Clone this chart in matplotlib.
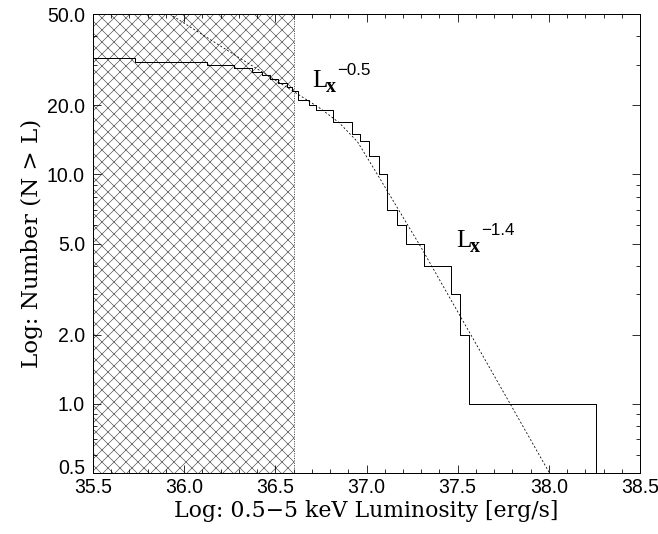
import numpy as np
import matplotlib
matplotlib.use("Agg")
import matplotlib.pyplot as plt
import matplotlib.transforms as mtransforms
from matplotlib.ticker import FixedLocator, MultipleLocator, LogLocator, NullFormatter

# cumulative luminosity function: level starts (log L) and N(>L)
lum = [35.50, 35.73, 36.127, 36.272, 36.37, 36.425, 36.471, 36.516, 36.563,
       36.59, 36.626, 36.683, 36.723, 36.818, 36.918, 36.965, 37.016, 37.069,
       37.115, 37.166, 37.215, 37.316, 37.462, 37.513, 37.564, 38.26]
counts = [32, 31, 30, 29, 28, 27, 26, 25, 24, 23, 21, 20, 19, 17, 15, 14, 12,
          10, 7, 6, 5, 4, 3, 2, 1, 0]

# broken power-law model (dashed)
model_lum = [35.92, 36.30, 36.60, 36.75, 36.85, 36.95, 37.05, 37.30, 38.01]
model_n = [50.0, 32.3, 23.0, 19.3, 16.8, 13.9, 10.3, 4.8, 0.49]

# incompleteness region
hatch_lo, hatch_hi = 35.5, 36.6

# slope labels: (log L, N, exponent)
slope_labels = [(36.70, 24.1, '\u22120.5'), (37.49, 4.83, '\u22121.4')]

y_ticks = [0.5, 1.0, 2.0, 5.0, 10.0, 20.0, 50.0]
x_ticks = [35.5, 36.0, 36.5, 37.0, 37.5, 38.0, 38.5]

plt.rcParams['hatch.linewidth'] = 0.6
plt.rcParams['hatch.color'] = '#444444'

fig = plt.figure(figsize=(658 / 72, 534 / 72), dpi=72)
ax = fig.add_axes([93 / 658, 1 - 473 / 534, 547 / 658, 459 / 534])

ax.axvspan(hatch_lo, hatch_hi, facecolor='none', edgecolor='#444444',
           hatch='xx', linewidth=0)
ax.axvline(hatch_hi, color='#333333', lw=0.8, ls=(0, (1.5, 1.5)))

ax.step(lum, counts, where='post', color='black', lw=1.0)
ax.plot(model_lum, model_n, color='black', lw=0.8, ls=(0, (2.5, 2.5)))

ax.set_yscale('log')
ax.set_xlim(35.5, 38.5)
ax.set_ylim(0.5, 50.0)

ax.yaxis.set_major_locator(FixedLocator(y_ticks))
ax.yaxis.set_minor_locator(LogLocator(subs=np.arange(2, 10)))
ax.yaxis.set_minor_formatter(NullFormatter())
ax.set_yticklabels(['%.1f' % v for v in y_ticks])
ax.xaxis.set_major_locator(FixedLocator(x_ticks))
ax.xaxis.set_minor_locator(MultipleLocator(0.1))
ax.set_xticklabels(['%.1f' % v for v in x_ticks])

ax.tick_params(which='both', direction='in', top=True, right=True, width=0.8)
ax.tick_params(which='major', length=8)
ax.tick_params(which='minor', length=4)
for lab in ax.get_xticklabels() + ax.get_yticklabels():
    lab.set_fontfamily('Liberation Sans')
    lab.set_fontsize(19.5)
ax.tick_params(axis='x', pad=5)
ax.tick_params(axis='y', pad=8)
# lift the lowest y label a little, as in the original
low = ax.get_yticklabels()[0]
low.set_transform(low.get_transform() +
                  mtransforms.ScaledTranslation(0, 6 / 72, fig.dpi_scale_trans))
for sp in ax.spines.values():
    sp.set_linewidth(1.0)

ax.set_xlabel('Log: 0.5\u22125 keV Luminosity [erg/s]', family='DejaVu Serif',
              fontsize=22, labelpad=3)
ax.set_ylabel('Log: Number (N > L)', family='DejaVu Serif', fontsize=23,
              labelpad=4)

for lx, ln, expo in slope_labels:
    ax.annotate('L', (lx, ln), family='Liberation Serif', fontsize=25,
                va='baseline', ha='left')
    ax.annotate('x', (lx, ln), xytext=(14, -5), textcoords='offset points',
                family='Liberation Serif', weight='bold', fontsize=20,
                va='baseline', ha='left')
    ax.annotate(expo, (lx, ln), xytext=(25, 12), textcoords='offset points',
                family='Liberation Sans', fontsize=17,
                va='baseline', ha='left')

fig.savefig('out.png', dpi=72)
